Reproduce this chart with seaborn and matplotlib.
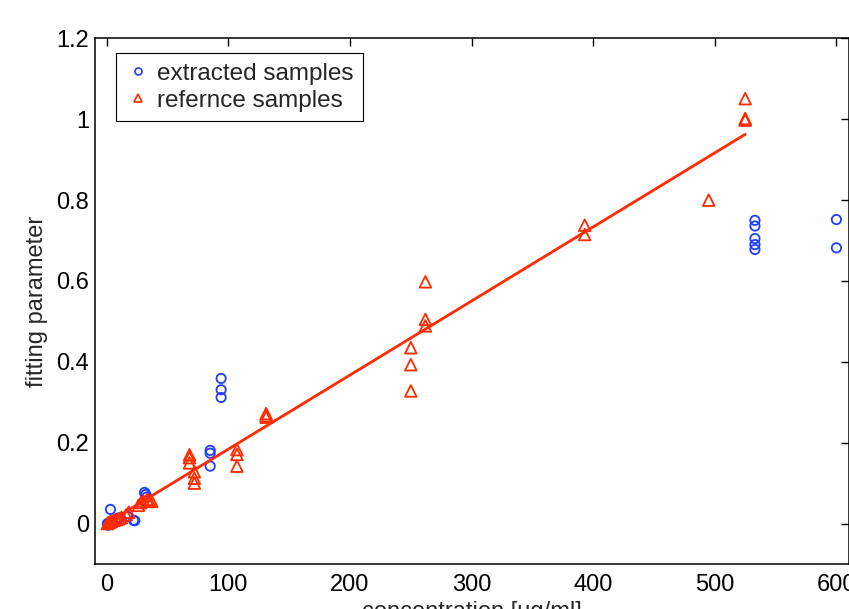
import numpy as np
import matplotlib
matplotlib.use("Agg")
import matplotlib.pyplot as plt
import seaborn as sns
from matplotlib.lines import Line2D

# extracted samples (blue circles)
ext_conc = [0.5, 1, 2, 3, 5, 8, 10, 12, 17, 22, 23, 31, 32, 33,
            85, 85, 85, 94, 94, 94, 533, 533, 533, 533, 533, 600, 600]
ext_val = [0.0, -0.004, 0.002, 0.035, 0.004, 0.012, 0.014, 0.010, 0.018, 0.008, 0.007,
           0.077, 0.072, 0.066, 0.181, 0.174, 0.142, 0.359, 0.331, 0.312,
           0.750, 0.736, 0.705, 0.690, 0.678, 0.752, 0.682]

# reference samples (red triangles)
ref_conc = [0.5, 1, 2, 3, 4, 6, 8, 10, 12, 16, 18, 26, 28, 30, 33, 35, 37,
            68, 68, 68, 72, 72, 72, 107, 107, 107, 131, 131, 131,
            250, 250, 250, 262, 262, 262, 393, 393, 495, 525, 525, 525]
ref_val = [0.0, 0.002, 0.003, 0.005, 0.006, 0.008, 0.010, 0.012, 0.015, 0.022, 0.028,
           0.045, 0.052, 0.056, 0.060, 0.057, 0.055,
           0.170, 0.163, 0.150, 0.128, 0.112, 0.100, 0.183, 0.171, 0.142,
           0.272, 0.267, 0.263, 0.435, 0.393, 0.328, 0.598, 0.505, 0.489,
           0.738, 0.715, 0.800, 1.051, 1.002, 0.998]

# linear fit of the reference samples
fit_slope = 0.001832
fit_intercept = 0.001

x_ticks = [0, 100, 200, 300, 400, 500, 600]
y_ticks = [0, 0.2, 0.4, 0.6, 0.8, 1.0, 1.2]
y_ticklabels = ["0", "0.2", "0.4", "0.6", "0.8", "1", "1.2"]

blue = "#1f3dff"
red = "#ff2a00"

sns.set_style("white")
plt.rcParams["font.family"] = ["Liberation Sans", "DejaVu Sans"]

fig = plt.figure(figsize=(8.49, 6.09), dpi=100)
ax = fig.add_axes([0.1115, 0.0739, 0.888, 0.863])

sns.scatterplot(x=ext_conc, y=ext_val, marker="o", s=45, facecolors="none",
                edgecolor=blue, linewidth=1.3, ax=ax, legend=False)
sns.scatterplot(x=ref_conc, y=ref_val, marker="^", s=70, facecolors="none",
                edgecolor=red, linewidth=1.3, ax=ax, legend=False)

fit_x = np.array([min(ref_conc), max(ref_conc)])
fit_y = fit_slope * fit_x + fit_intercept
sns.lineplot(x=fit_x, y=fit_y, color=red, linewidth=2.0, ax=ax)

ax.set_xlim(-10, 610)
ax.set_ylim(-0.1, 1.2)
ax.set_xticks(x_ticks)
ax.set_yticks(y_ticks)
ax.set_yticklabels(y_ticklabels)
ax.tick_params(direction="in", length=6, width=1, top=True, right=True,
               labelsize=17, colors="black")
ax.tick_params(axis="x", pad=7)
ax.tick_params(axis="y", pad=4)
for s in ax.spines.values():
    s.set_visible(True)
    s.set_color("black")
    s.set_linewidth(1.1)

ax.set_xlabel("concentration [ug/ml]", fontsize=17, labelpad=4)
ax.set_ylabel("fitting parameter", fontsize=17, labelpad=6)

handles = [
    Line2D([], [], marker="o", linestyle="none", markersize=5, markerfacecolor="none",
           markeredgecolor=blue, markeredgewidth=1.2),
    Line2D([], [], marker="^", linestyle="none", markersize=6, markerfacecolor="none",
           markeredgecolor=red, markeredgewidth=1.2),
]
leg = ax.legend(handles, ["extracted samples", "refernce samples"], loc="upper left",
                bbox_to_anchor=(0.028, 0.972), borderaxespad=0, fontsize=17.5,
                fancybox=False, frameon=True, framealpha=1, edgecolor="black",
                handlelength=1.0, handletextpad=0.3, borderpad=0.4, labelspacing=0.2)
leg.get_frame().set_linewidth(0.8)

fig.savefig("out.png", dpi=100)
